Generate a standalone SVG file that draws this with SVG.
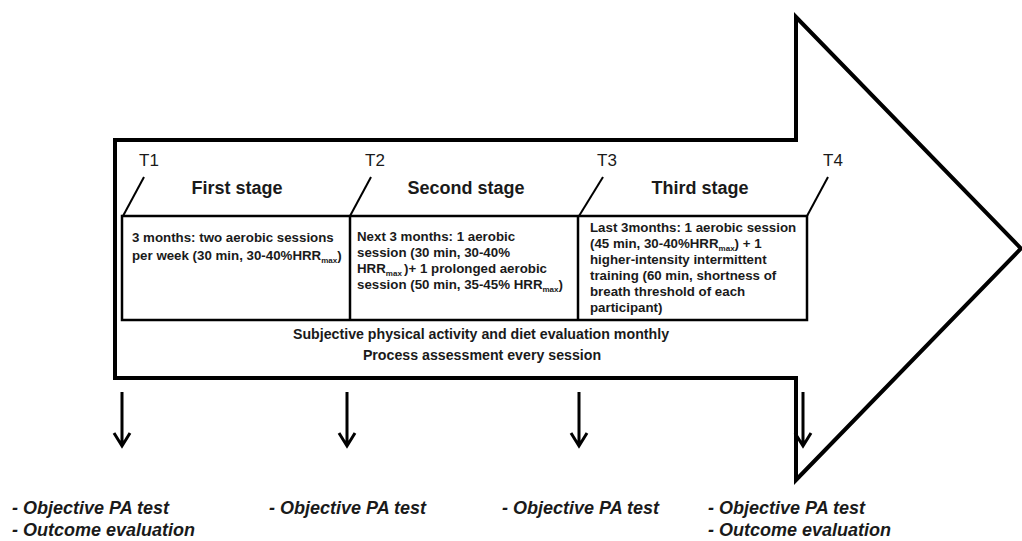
<svg xmlns="http://www.w3.org/2000/svg" width="1022" height="541" viewBox="0 0 1022 541">
<style>
.outline{fill:none;stroke:#000;stroke-width:4;stroke-linejoin:miter}
.box{fill:none;stroke:#000;stroke-width:2.5}
.tick{fill:none;stroke:#000;stroke-width:2}
.arr{fill:none;stroke:#000;stroke-width:3}
.t{font-family:"Liberation Sans",Arial,sans-serif;fill:#1a1a1a}
.tl{font-size:17px}
.st{font-size:18px;font-weight:bold;text-anchor:middle}
.bx{font-size:13.3px;font-weight:bold}
.ev{font-size:14.2px;font-weight:bold;text-anchor:middle}
.out{font-size:18px;font-weight:bold;font-style:italic}
.sub{font-size:8px}
</style>
<rect width="1022" height="541" fill="#fff"/>
<g id="big-arrow">
<polygon class="outline" points="115,140 796,140 796,17 1021,248.5 796,480 796,378 115,378"/>
</g>
<g id="stage-boxes">
<rect class="box" x="122" y="216" width="685" height="104"/>
<line class="box" x1="350" y1="216" x2="350" y2="320"/>
<line class="box" x1="578" y1="216" x2="578" y2="320"/>
</g>
<g id="t1">
<line class="tick" x1="123" y1="216" x2="144" y2="177"/>
<text class="t tl" x="139" y="166">T1</text>
</g>
<g id="t2">
<line class="tick" x1="350" y1="216" x2="371" y2="177"/>
<text class="t tl" x="365" y="166">T2</text>
</g>
<g id="t3">
<line class="tick" x1="579" y1="216" x2="603" y2="177"/>
<text class="t tl" x="597" y="166">T3</text>
</g>
<g id="t4">
<line class="tick" x1="807" y1="216" x2="828" y2="177"/>
<text class="t tl" x="823" y="166">T4</text>
</g>
<g id="first-stage">
<text class="t st" x="237" y="194">First stage</text>
<text class="t bx" x="132" y="242">3 months:  two aerobic sessions</text>
<text class="t bx" x="132" y="260">per week (30 min, 30-40%HRR<tspan class="sub" dy="3">max</tspan><tspan dy="-3">)</tspan></text>
</g>
<g id="second-stage">
<text class="t st" x="466" y="194">Second stage</text>
<text class="t bx" x="357" y="241">Next 3 months:  1 aerobic</text>
<text class="t bx" x="357" y="257">session (30 min, 30-40%</text>
<text class="t bx" x="357" y="273">HRR<tspan class="sub" dy="3">max </tspan><tspan dy="-3">)+ 1 prolonged aerobic</tspan></text>
<text class="t bx" x="357" y="289">session (50 min,  35-45% HRR<tspan class="sub" dy="3">max</tspan><tspan dy="-3">)</tspan></text>
</g>
<g id="third-stage">
<text class="t st" x="700" y="194">Third stage</text>
<text class="t bx" x="590" y="232">Last 3months:  1 aerobic session</text>
<text class="t bx" x="590" y="248">(45 min, 30-40%HRR<tspan class="sub" dy="3">max</tspan><tspan dy="-3">) + 1</tspan></text>
<text class="t bx" x="590" y="264">higher-intensity intermittent</text>
<text class="t bx" x="590" y="280">training (60 min, shortness of</text>
<text class="t bx" x="590" y="296">breath threshold of each</text>
<text class="t bx" x="590" y="312">participant)</text>
</g>
<g id="evaluation">
<text class="t ev" x="481" y="339">Subjective physical activity and diet evaluation monthly</text>
<text class="t ev" x="482" y="360">Process assessment every  session</text>
</g>
<g id="connectors">
<path class="arr" d="M122,392 V446 M114,433 L122,446 L130,433"/>
<path class="arr" d="M347,392 V446 M339,433 L347,446 L355,433"/>
<path class="arr" d="M579,392 V446 M571,433 L579,446 L587,433"/>
<path class="arr" d="M803,392 V446 M795,433 L803,446 L811,433"/>
</g>
<g id="outcome-t1">
<text class="t out" x="12" y="514">- Objective PA test</text>
<text class="t out" x="12" y="536">- Outcome evaluation</text>
</g>
<g id="outcome-t2">
<text class="t out" x="269" y="514">- Objective PA test</text>
</g>
<g id="outcome-t3">
<text class="t out" x="502" y="514">- Objective PA test</text>
</g>
<g id="outcome-t4">
<text class="t out" x="708" y="514">- Objective PA test</text>
<text class="t out" x="708" y="536">- Outcome evaluation</text>
</g>
</svg>
